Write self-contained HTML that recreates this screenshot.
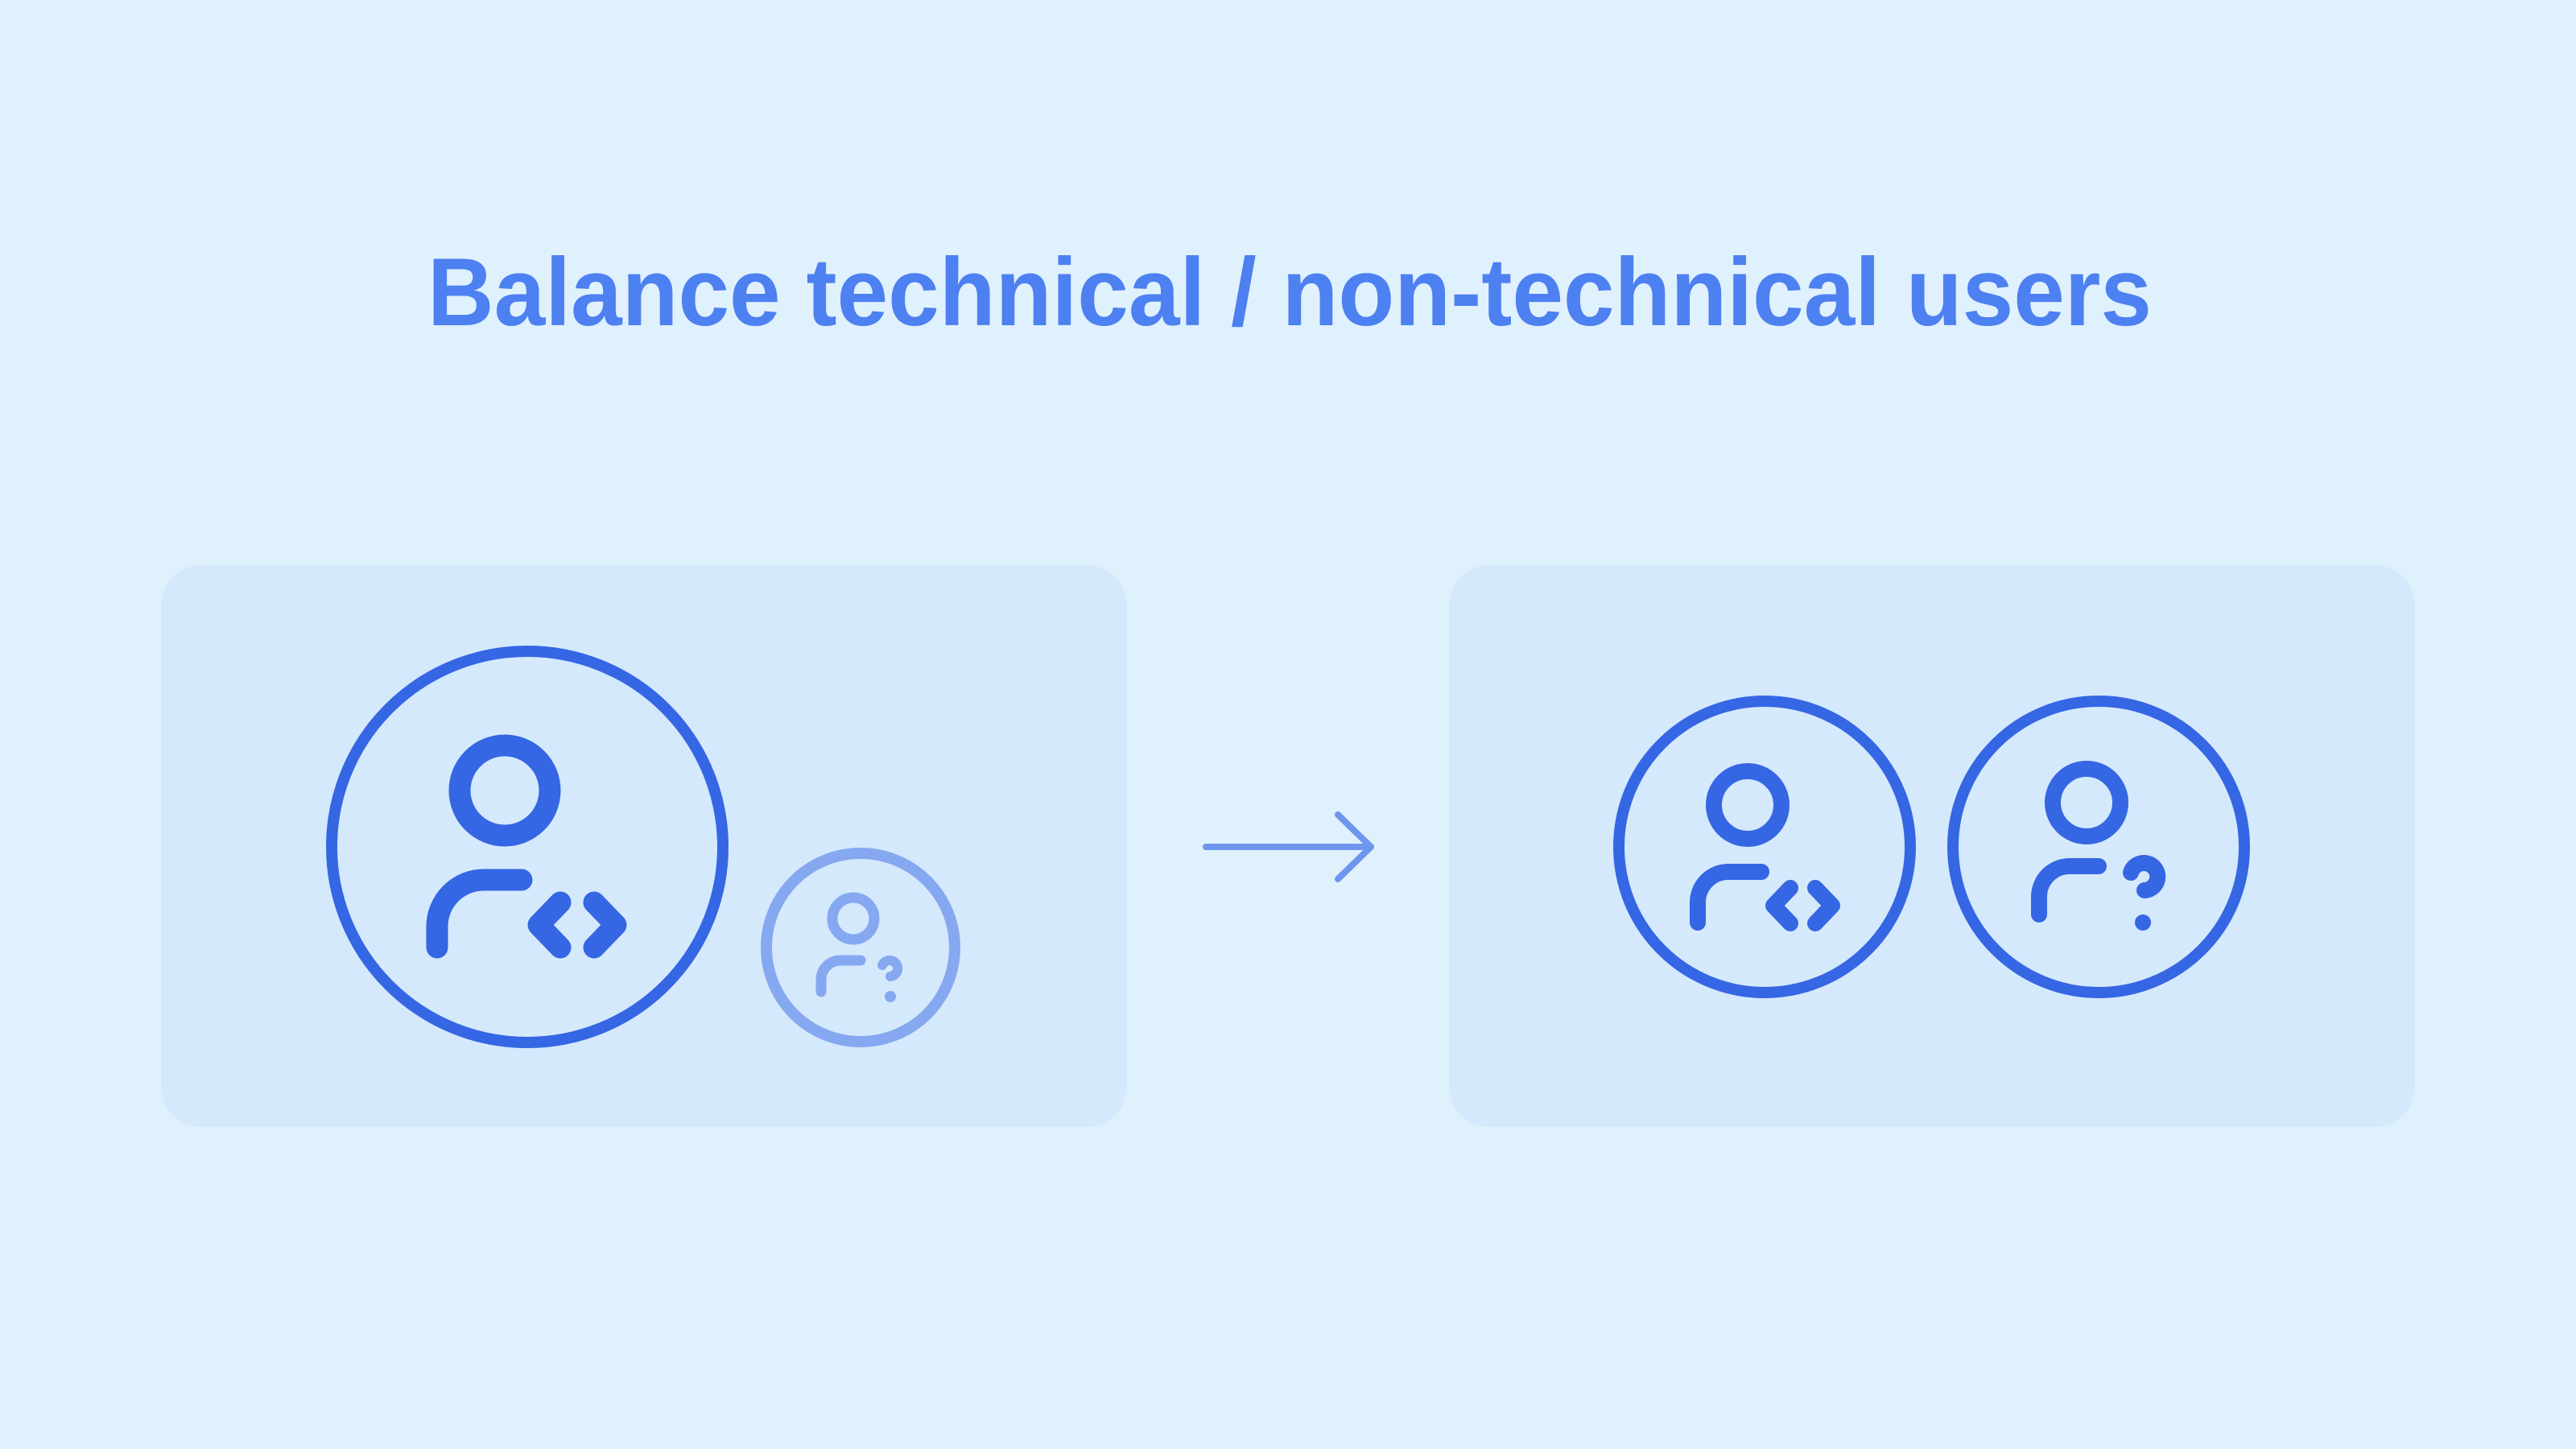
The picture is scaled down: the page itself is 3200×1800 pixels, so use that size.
<!DOCTYPE html>
<html><head><meta charset="utf-8"><style>
html,body{margin:0;padding:0;background:#e0f1fe;}
svg{display:block}
</style></head><body>
<svg width="3200" height="1800" viewBox="0 0 3200 1800" xmlns="http://www.w3.org/2000/svg">
<rect width="3200" height="1800" fill="#e0f1fe"/>
<text x="531" y="404" textLength="2142" lengthAdjust="spacingAndGlyphs" font-family="Liberation Sans, sans-serif" font-weight="bold" font-size="120" fill="#4d80f0">Balance technical / non-technical users</text>
<rect x="200" y="702" width="1200" height="698" rx="50" fill="#d5e9fd"/>
<rect x="1800" y="702" width="1200" height="698" rx="50" fill="#d5e9fd"/>
<g fill="none" stroke-linecap="round" stroke-linejoin="round">
 <g stroke="#3566e3">
  <circle cx="655" cy="1052" r="243" stroke-width="14"/>
  <circle cx="627" cy="982" r="56" stroke-width="27"/>
  <path d="M648,1093 H601 A58,58 0 0 0 543,1151 V1177" stroke-width="27"/>
  <path d="M696,1121 L669,1149 L696,1177" stroke-width="27"/>
  <path d="M738,1121 L765,1149 L738,1177" stroke-width="27"/>
 </g>
 <g stroke="#86a8f0">
  <circle cx="1069" cy="1177" r="117" stroke-width="14"/>
  <circle cx="1060" cy="1141" r="26" stroke-width="13"/>
  <path d="M1069,1193 H1044 A24,24 0 0 0 1020,1217 V1232" stroke-width="13"/>
  <path d="M1096,1199 A10,10 0 1 1 1106,1213" stroke-width="12"/>
 </g>
 <g stroke="#6d96ee" stroke-width="8">
  <path d="M1498,1052 H1703"/>
  <path d="M1662,1012 L1703,1052 L1662,1092"/>
 </g>
 <g stroke="#3566e3">
  <circle cx="2192" cy="1052" r="181" stroke-width="14"/>
  <circle cx="2171" cy="1000" r="42" stroke-width="20"/>
  <path d="M2188,1083 H2147 A38,38 0 0 0 2109,1121 V1146" stroke-width="20"/>
  <path d="M2224,1103 L2203,1125 L2224,1147" stroke-width="20"/>
  <path d="M2255,1103 L2276,1125 L2255,1147" stroke-width="20"/>
  <circle cx="2607" cy="1052" r="181" stroke-width="14"/>
  <circle cx="2592" cy="997" r="42" stroke-width="20"/>
  <path d="M2607,1076 H2571 A38,38 0 0 0 2533,1114 V1136" stroke-width="20"/>
  <path d="M2647,1084 A17,17 0 1 1 2664,1106" stroke-width="20"/>
 </g>
</g>
<circle cx="1106" cy="1238" r="7" fill="#86a8f0"/>
<circle cx="2662" cy="1146" r="10" fill="#3566e3"/>
</svg>
</body></html>
